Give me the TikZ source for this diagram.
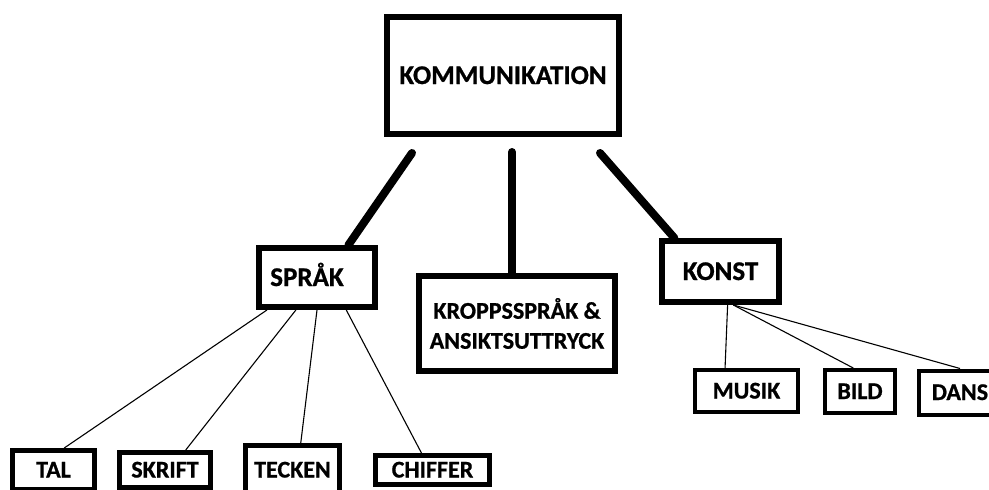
\documentclass[tikz,border=0pt]{standalone}
\usepackage{fontspec}
\setmainfont{Carlito}[BoldFeatures={FakeBold=0.8}]
\tikzset{
  bigbox/.style={draw,line width=6pt,inner sep=0pt,font=\bfseries\fontsize{27}{30}\selectfont,text height=17pt,text depth=0pt},
  smallbox/.style={draw,line width=5pt,inner sep=0pt,font=\bfseries\fontsize{24}{30}\selectfont,text height=15pt,text depth=0pt},
  thickline/.style={line width=8pt,line cap=round},
  thinline/.style={line width=1.1pt}
}
\begin{document}
\begin{tikzpicture}[x=1pt,y=-1pt]
\useasboundingbox (0,0) rectangle (989,490);
\clip (0,0) rectangle (989,490);
%
\node[bigbox,minimum width=232,minimum height=117](komm) at (503,75.5){KOMMUNIKATION};
\node[bigbox,minimum width=116,minimum height=59](sprak) at (317,277.5){SPRÅK\hspace*{20pt}};
\node[bigbox,minimum width=196,minimum height=95,text height=,text depth=,align=center,font=\bfseries\fontsize{24}{30}\selectfont](kropp) at (517,323.5){KROPPSSPRÅK \&\\ANSIKTSUTTRYCK};
\node[bigbox,minimum width=117,minimum height=61](konst) at (720.5,271.5){KONST};
%
\node[smallbox,minimum width=82,minimum height=39](tal) at (53.5,470){TAL};
\node[smallbox,minimum width=91,minimum height=35](skrift) at (165,470){SKRIFT};
\node[smallbox,minimum width=94,minimum height=49](tecken) at (292.5,470){TECKEN};
\node[smallbox,minimum width=114,minimum height=29](chiffer) at (432.5,470){CHIFFER};
%
\node[smallbox,line width=4pt,minimum width=103,minimum height=42](musik) at (746.5,391){MUSIK};
\node[smallbox,line width=4pt,minimum width=70,minimum height=43](bild) at (860,391.5){BILD};
\node[smallbox,line width=4pt,minimum width=82,minimum height=44](dans) at (960,392.5){DANS};
%
\coordinate (k1) at (412,153);
\coordinate (k2) at (512,152);
\coordinate (k3) at (600,153);
\draw[thickline](k1)--(sprak.46);
\draw[thickline](k2)--(k2 |- kropp.north);
\draw[thickline](k3)--(konst.144);
%
\draw[thinline](sprak.213)--(tal.64);
\draw[thinline](sprak.237)--(skrift.44);
\draw[thinline](sprak.south)--(tecken.73);
\draw[thinline](sprak.312)--(chiffer.123);
%
\draw[thinline](konst.282)--(musik.133);
\draw[thinline](konst.291)--(bild.106);
\draw[thinline](konst.291)--(dans.north);
\end{tikzpicture}
\end{document}
